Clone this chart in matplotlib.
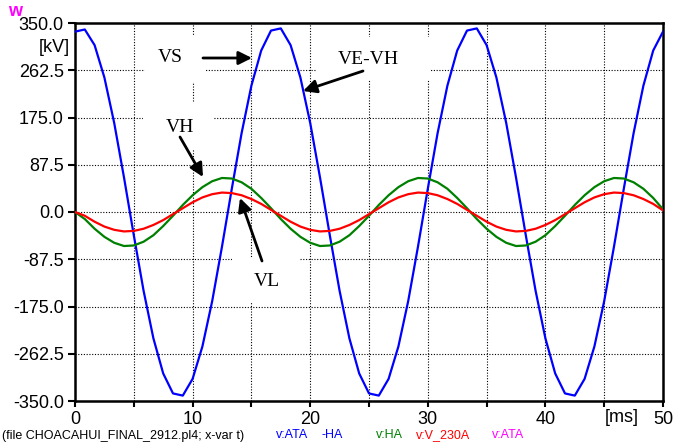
#!python
# ATP plot: VS, VE-VH, VH, VL voltages

import numpy as np
import matplotlib.pyplot as plt
from matplotlib.patches import Rectangle

W, H = 676, 443

# samples (one every 50/60 ms)
t_ms = np.linspace(0, 50, 61)
vs = [334, 338, 309, 249, 165, 64, -43, -146, -234, -299,
      -336, -340, -309, -249, -165, -64, 43, 146, 234, 299,
      336, 340, 309, 249, 165, 64, -43, -146, -234, -299,
      -336, -340, -309, -249, -165, -64, 43, 146, 234, 299,
      336, 340, 309, 249, 165, 64, -43, -146, -234, -299,
      -336, -340, -309, -249, -165, -64, 43, 146, 234, 299,
      334]
vh = [0, -13, -31, -46, -57, -63, -62, -55, -43, -26,
      -7, 13, 31, 46, 57, 63, 62, 55, 43, 26,
      7, -13, -31, -46, -57, -63, -62, -55, -43, -26,
      -7, 13, 31, 46, 57, 63, 62, 55, 43, 26,
      7, -13, -31, -46, -57, -63, -62, -55, -43, -26,
      -7, 13, 31, 46, 57, 63, 62, 55, 43, 26,
      5]
vl = [0, -7, -18, -27, -33, -36, -35, -31, -24, -15,
      -4, 7, 18, 27, 33, 36, 35, 31, 24, 15,
      4, -7, -18, -27, -33, -36, -35, -31, -24, -15,
      -4, 7, 18, 27, 33, 36, 35, 31, 24, 15,
      4, -7, -18, -27, -33, -36, -35, -31, -24, -15,
      -4, 7, 18, 27, 33, 36, 35, 31, 24, 15,
      3]

y_ticks = [-350.0, -262.5, -175.0, -87.5, 0.0, 87.5, 175.0, 262.5, 350.0]
x_ticks = [0, 5, 10, 15, 20, 25, 30, 35, 40, 45, 50]
x_labels = ['0', '', '10', '', '20', '', '30', '', '40', '', '50']

legend_items = [('v:ATA', '#0000ff', 276), ('-HA', '#0000ff', 321),
                ('v:HA', '#008000', 376), ('v:V_230A', '#ff0000', 416),
                ('v:ATA', '#ff00ff', 492)]


def fx(x):
    return x / W


def fy(y):
    return 1 - y / H


plt.rcParams['font.family'] = ['Liberation Sans', 'DejaVu Sans']

fig = plt.figure(figsize=(W / 100, H / 100), dpi=100)
ax = fig.add_axes([fx(75), fy(401), fx(663) - fx(75), fy(23) - fy(401)])

ax.plot(t_ms, vs, color='#0000ff', lw=1.6, zorder=3)
ax.plot(t_ms, vh, color='#008000', lw=1.6, zorder=3)
ax.plot(t_ms, vl, color='#ff0000', lw=1.6, zorder=4)

ax.set_xlim(0, 50)
ax.set_ylim(-350, 350)
ax.set_xticks(x_ticks)
ax.set_xticklabels(x_labels)
ax.set_yticks(y_ticks)
ax.set_yticklabels(['%.1f' % v for v in y_ticks])
ax.tick_params(axis='both', direction='out', width=1.5, labelsize=13)
ax.tick_params(axis='y', length=5, pad=3)
ax.tick_params(axis='x', length=4, pad=3)

ax.set_axisbelow(True)
ax.grid(True, color='black', lw=0.8, linestyle=(0, (1, 1.5)))
for s in ax.spines.values():
    s.set_linewidth(1.8)

# white boxes behind the annotations (they cut the grid)
for x0, y0, x1, y1 in [(145, 35, 205, 82), (143, 103, 213, 150),
                       (317, 37, 430, 80), (232, 258, 300, 303)]:
    ax.add_patch(Rectangle((fx(x0), fy(y1)), fx(x1) - fx(x0), fy(y0) - fy(y1),
                           transform=fig.transFigure, facecolor='white',
                           edgecolor='none', zorder=1))
ax.set_xlim(0, 50)
ax.set_ylim(-350, 350)

serif = ['Liberation Serif', 'DejaVu Serif']
for txt, x, y in [('VS', 170, 58), ('VE-VH', 368, 60), ('VH', 180, 128), ('VL', 267, 281)]:
    fig.text(fx(x), fy(y), txt, family=serif, fontsize=14, ha='center', va='center')

for tail, tip in [((203, 58), (252, 58)), ((363, 71), (303, 91)),
                  ((180, 137), (203, 177)), ((262, 261), (240, 198))]:
    ax.annotate('', xy=(fx(tip[0]), fy(tip[1])), xytext=(fx(tail[0]), fy(tail[1])),
                xycoords='figure fraction', textcoords='figure fraction',
                arrowprops=dict(arrowstyle='-|>', color='black', lw=2,
                                mutation_scale=20, shrinkA=0, shrinkB=0),
                zorder=5)

fig.text(fx(70), fy(47), '[kV]', fontsize=13, ha='right', va='center')
fig.text(fx(622), fy(418), '[ms]', fontsize=13, ha='center', va='center')
fig.text(fx(15), fy(11), 'w', fontsize=13, fontweight='bold', color='#ff00ff',
         ha='center', va='center')

fig.text(fx(2), fy(438.5), '(file CHOACAHUI_FINAL_2912.pl4; x-var t)', fontsize=9,
         ha='left', va='baseline')
for txt, col, x in legend_items:
    fig.text(fx(x), fy(438.5), txt, fontsize=9, color=col, ha='left', va='baseline')

fig.savefig('out.png', dpi=100)
